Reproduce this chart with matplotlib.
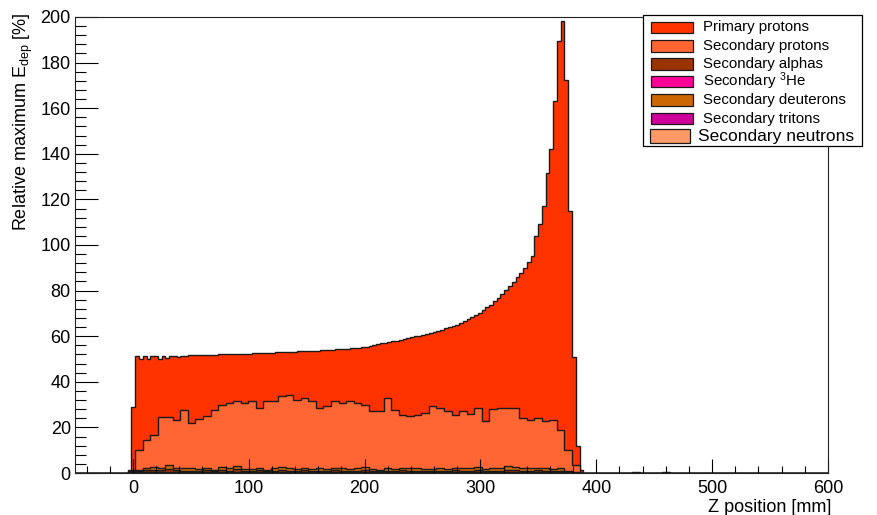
import numpy as np
import matplotlib
matplotlib.use("Agg")
import matplotlib.pyplot as plt
from matplotlib.patches import Rectangle
from matplotlib.ticker import MultipleLocator

plt.rcParams['font.family'] = ['Liberation Sans', 'DejaVu Sans']
plt.rcParams['mathtext.fontset'] = 'custom'
plt.rcParams['mathtext.rm'] = 'Liberation Sans'
plt.rcParams['mathtext.it'] = 'Liberation Sans:italic'

# histogram binning: 200 fine bins (primaries), 100 coarse bins (secondaries)
z_min, z_max = -50, 600
fine_edges = np.linspace(z_min, z_max, 201)
coarse_edges = np.linspace(z_min, z_max, 101)

# primary protons, fine bins 15..134
primary_first_bin = 15
primary_protons = [
    29.0,
    51.2, 50.0, 51.2, 50.0, 51.2, 51.3, 50.2, 51.3, 50.4, 51.4, 51.4, 50.8,
    51.5, 51.4, 51.6, 51.6, 51.7, 51.6, 51.8, 51.8, 51.9, 51.9, 52.0, 52.0,
    52.1, 52.0, 52.2, 52.3, 52.3, 52.4, 52.4, 52.5, 52.6, 52.6,
    52.7, 52.7, 52.8, 52.9, 52.9, 53.0, 53.1, 53.1, 53.2, 53.3,
    53.4, 53.4, 53.5, 53.6, 53.7, 53.8, 53.9, 54.0, 54.1, 54.2,
    54.3, 54.4, 54.5, 54.7, 54.8, 55.0, 55.2, 55.4, 55.7, 56.0,
    56.4, 56.8, 57.2, 57.5, 57.8, 58.1, 58.4, 58.8, 59.2, 59.6,
    59.9, 60.2, 60.6, 61.0, 61.4, 61.9, 62.4, 62.9, 63.4, 63.9,
    64.3, 65.0, 65.8, 66.6, 67.4, 68.3, 69.3, 70.3, 71.4, 72.6,
    73.9, 75.3, 76.8, 78.4, 80.1, 81.9, 83.8, 85.8, 87.9, 90.1, 92.4,
    95.0, 104.0, 109.0, 117.0, 131.7, 142.0, 163.0, 189.6, 198.4,
    172.5, 115.0, 51.0, 12.0, 1.5,
]

# secondaries, coarse bins starting at bin 7
secondary_first_bin = 7
secondary_protons = [
    1.5,
    10.0, 14.5, 16.7, 24.5, 24.5, 23.3, 27.7, 22.1, 23.6, 25.1, 27.7, 29.9, 30.9, 31.6,
    30.6, 31.7, 28.4, 31.7, 31.4, 33.6, 34.3, 32.2, 32.9, 31.7,
    28.4, 29.2, 31.4, 30.6, 31.7, 30.6, 29.9, 27.0, 27.0, 32.9,
    27.7, 25.5, 24.8, 25.5, 26.2, 29.5, 28.4, 27.4, 25.5, 27.0,
    25.9, 28.4, 22.6, 28.0, 28.4, 28.4, 28.4, 24.0, 23.3, 24.0,
    22.6, 23.3, 18.8, 10.1, 3.5,
]
secondary_deuterons = [
    0.8, 1.4, 2.0, 2.6, 2.2, 3.4, 2.4, 2.0, 2.2, 1.6,
    2.0, 1.4, 2.8, 2.2, 3.0, 1.8, 1.6, 2.2, 1.4, 2.0,
    2.6, 2.2, 1.8, 2.4, 1.6, 2.0, 1.8, 2.4, 2.2, 1.6,
    2.0, 2.6, 1.8, 1.4, 2.0, 1.6, 2.4, 2.0, 2.2, 1.6,
    1.8, 2.2, 1.6, 2.4, 2.0, 2.2, 2.8, 1.8, 2.0, 2.2,
    3.0, 2.6, 2.2, 2.0, 2.4, 2.2, 1.6, 2.0, 0.8, 0.2,
]
secondary_alphas = [
    0.6, 1.0, 1.2, 1.4, 1.2, 1.6, 1.2, 1.0, 1.0, 0.8,
    1.2, 0.8, 1.4, 1.0, 1.6, 1.0, 0.8, 1.2, 0.8, 1.0,
    1.4, 1.0, 1.0, 1.2, 0.8, 1.0, 1.0, 1.2, 1.0, 0.8,
    1.0, 1.2, 1.0, 0.8, 1.0, 0.8, 1.2, 1.0, 1.0, 0.8,
    1.0, 1.0, 0.8, 1.2, 1.0, 1.0, 1.4, 0.8, 1.0, 1.0,
    1.4, 1.2, 1.0, 1.0, 1.2, 1.0, 0.8, 1.0, 0.4, 0.1,
]
secondary_he3 = [
    0.1, 0.2, 0.3, 0.2, 0.3, 0.2, 0.2, 0.3, 0.2, 0.2,
    0.3, 0.2, 0.2, 0.3, 0.2, 0.2, 0.2, 0.3, 0.2, 0.2,
    0.2, 0.3, 0.2, 0.2, 0.2, 0.3, 0.2, 0.2, 0.2, 0.2,
    0.3, 0.2, 0.2, 0.2, 0.2, 0.3, 0.2, 0.2, 0.2, 0.2,
    0.2, 0.3, 0.2, 0.2, 0.2, 0.2, 0.3, 0.2, 0.2, 0.2,
    0.2, 0.2, 0.3, 0.2, 0.2, 0.2, 0.2, 0.2, 0.1, 0.0,
]
secondary_tritons = [
    0.2, 0.4, 0.5, 0.4, 0.6, 0.4, 0.5, 0.4, 0.4, 0.3,
    0.5, 0.4, 0.6, 0.4, 0.5, 0.4, 0.3, 0.5, 0.4, 0.4,
    0.5, 0.4, 0.4, 0.5, 0.3, 0.4, 0.4, 0.5, 0.4, 0.3,
    0.4, 0.5, 0.4, 0.3, 0.4, 0.3, 0.5, 0.4, 0.4, 0.3,
    0.4, 0.4, 0.3, 0.5, 0.4, 0.4, 0.5, 0.3, 0.4, 0.4,
    0.5, 0.5, 0.4, 0.4, 0.5, 0.4, 0.3, 0.4, 0.2, 0.0,
]
secondary_neutrons = [
    0.1, 0.2, 0.2, 0.3, 0.2, 0.2, 0.3, 0.2, 0.2, 0.2,
    0.2, 0.3, 0.2, 0.2, 0.2, 0.2, 0.3, 0.2, 0.2, 0.2,
    0.2, 0.2, 0.3, 0.2, 0.2, 0.2, 0.2, 0.2, 0.3, 0.2,
    0.2, 0.2, 0.2, 0.3, 0.2, 0.2, 0.2, 0.2, 0.2, 0.2,
    0.3, 0.2, 0.2, 0.2, 0.2, 0.2, 0.2, 0.3, 0.2, 0.2,
    0.2, 0.2, 0.2, 0.2, 0.3, 0.2, 0.2, 0.2, 0.4, 0.3,
    0.2, 0.0, 0.0, 0.0, 0.0, 0.0, 0.0, 0.5, 0.0, 0.0, 0.0, 0.6, 0.0, 0.0,
]

labels = ["Primary protons", "Secondary protons", "Secondary alphas",
          "Secondary $^{3}$He", "Secondary deuterons", "Secondary tritons",
          "Secondary neutrons"]
colors = ["#ff3300", "#ff6633", "#993300", "#ff0099", "#cc6600", "#cc0099", "#ff9966"]


def fill_bins(vals, n_bins, first):
    h = np.zeros(n_bins)
    h[first:first + len(vals)] = vals
    return h


fig = plt.figure(figsize=(8.77, 5.15), dpi=100)
ax = fig.add_axes([75 / 877, 1 - 473 / 515, 753 / 877, 456 / 515])

outline = dict(edgecolor="#1a1a1a", linewidth=1.0, fill=True)
ax.stairs(fill_bins(primary_protons, 200, primary_first_bin), fine_edges,
          facecolor=colors[0], **outline)
ax.stairs(fill_bins(secondary_protons, 100, secondary_first_bin), coarse_edges,
          facecolor=colors[1], **outline)
# drawing order keeps the thin species visible at the bottom
ax.stairs(fill_bins(secondary_deuterons, 100, secondary_first_bin), coarse_edges,
          facecolor=colors[4], **outline)
ax.stairs(fill_bins(secondary_alphas, 100, secondary_first_bin), coarse_edges,
          facecolor=colors[2], **outline)
ax.stairs(fill_bins(secondary_tritons, 100, secondary_first_bin), coarse_edges,
          facecolor=colors[5], **outline)
ax.stairs(fill_bins(secondary_he3, 100, secondary_first_bin), coarse_edges,
          facecolor=colors[3], **outline)
ax.stairs(fill_bins(secondary_neutrons, 100, secondary_first_bin), coarse_edges,
          facecolor=colors[6], **outline)

ax.set_xlim(z_min, z_max)
ax.set_ylim(0, 200)
ax.xaxis.set_major_locator(MultipleLocator(100))
ax.xaxis.set_minor_locator(MultipleLocator(20))
ax.yaxis.set_major_locator(MultipleLocator(20))
ax.yaxis.set_minor_locator(MultipleLocator(4))
ax.tick_params(axis="both", which="both", direction="in", top=False, right=False,
               colors="black", width=0.8, labelsize=13)
ax.tick_params(axis="x", which="major", length=10, pad=5)
ax.tick_params(axis="x", which="minor", length=5)
ax.tick_params(axis="y", which="major", length=16.3, pad=3)
ax.tick_params(axis="y", which="minor", length=8.1)
for sp in ax.spines.values():
    sp.set_color("#222222")
    sp.set_linewidth(0.8)

ax.set_xlabel("Z position [mm]", fontsize=13, loc="right")
ax.xaxis.set_label_coords(1.005, -0.057)
ax.set_ylabel("Relative maximum E$_{\\rm dep}$ [%]", fontsize=13, loc="top")
ax.yaxis.set_label_coords(-0.053, 1.01)

# legend box drawn by hand (ROOT style)
lax = fig.add_axes([643 / 877, 1 - 146 / 515, 219 / 877, 131 / 515])
lax.set_xlim(0, 219)
lax.set_ylim(131, 0)
lax.axis("off")
lax.add_patch(Rectangle((0, 0), 219, 131, facecolor="white", edgecolor="black",
                        linewidth=0.9, clip_on=False))
row_y = [12.5, 30.8, 48.8, 66.7, 85.0, 103.5, 121.2]
for i, (lab, col) in enumerate(zip(labels, colors)):
    if i < 6:
        lax.add_patch(Rectangle((8.4, row_y[i] - 5.8), 41.6, 11.6, facecolor=col,
                                edgecolor="#1a1a1a", linewidth=0.9))
        lax.text(60, row_y[i], lab, fontsize=10.8, va="center", ha="left")
    else:
        lax.add_patch(Rectangle((6.7, row_y[i] - 7), 40, 14, facecolor=col,
                                edgecolor="#1a1a1a", linewidth=0.9))
        lax.text(55, row_y[i], lab, fontsize=12.5, va="center", ha="left")

fig.savefig("out.png", dpi=100)
